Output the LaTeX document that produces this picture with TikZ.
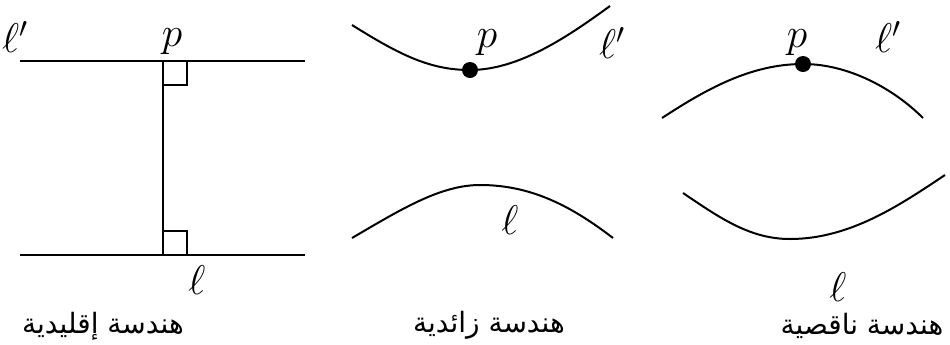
\documentclass[tikz,border=0pt]{standalone}
\usepackage{fontspec}
\newfontfamily\arabicfont[Script=Arabic]{DejaVu Sans}
\TeXXeTstate=1

\tikzset{
  geoline/.style={line width=1pt},
  sym/.style={font=\fontsize{22}{26}\selectfont},
  caption/.style={font=\arabicfont\fontsize{14}{17}\selectfont},
  pdot/.style={circle,fill=black,inner sep=0pt,minimum size=8pt}
}

\begin{document}
\begin{tikzpicture}[x=0.5pt,y=-0.5pt]
\useasboundingbox (0,0) rectangle (950,344);

% euclidean
\draw[geoline] (20,61) -- (305,61);
\draw[geoline] (20,255) -- (305,255);
\draw[geoline] (163,61) -- (163,255);
\draw[geoline] (163,85) -- (187,85) -- (187,61);
\draw[geoline] (163,231) -- (187,231) -- (187,255);

\node[sym] (eLp) at (15,37) {$\ell'$};
\node[sym] (eP) at (172,42) {$p$};
\node[sym] (eL) at (197,280) {$\ell$};
\node[caption] (eCap) at (103,326) {\beginR هندسة إقليدية\endR};

% hyperbolic
\draw[geoline] (352,25) .. controls (400,55) and (430,70) .. (470,70)
  .. controls (520,70) and (570,35) .. (610,6);
\draw[geoline] (352,238) .. controls (400,210) and (440,185) .. (480,185)
  .. controls (530,185) and (570,205) .. (613,238);
\node[pdot] (hDot) at (470,70) {};

\node[sym] (hP) at (487,43) {$p$};
\node[sym] (hLp) at (612,43) {$\ell'$};
\node[sym] (hL) at (510,220) {$\ell$};
\node[caption] (hCap) at (489,325) {\beginR هندسة زائدية\endR};

% elliptic
\draw[geoline] (662,118) .. controls (705,90) and (750,64) .. (803,64)
  .. controls (850,64) and (895,90) .. (923,118);
\draw[geoline] (683,193) .. controls (720,218) and (750,239) .. (790,239)
  .. controls (850,239) and (900,205) .. (945,175);
\node[pdot] (lDot) at (803,64) {};

\node[sym] (lP) at (797,43) {$p$};
\node[sym] (lLp) at (888,37) {$\ell'$};
\node[sym] (lL) at (838,287) {$\ell$};
\node[caption] (lCap) at (862,326) {\beginR هندسة ناقصية\endR};
\end{tikzpicture}
\end{document}
